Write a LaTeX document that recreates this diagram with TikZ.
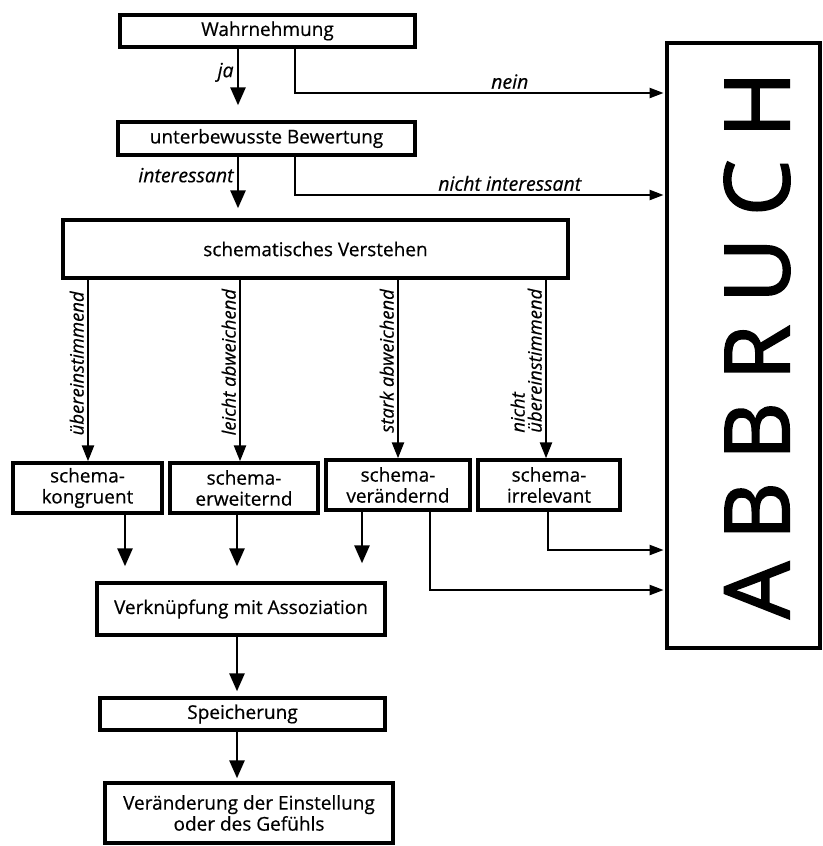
\documentclass[tikz,border=0pt]{standalone}
\usepackage{fontspec}
\setmainfont{Open Sans}
\usetikzlibrary{arrows.meta,calc}
\begin{document}
\begin{tikzpicture}[x=1pt,y=-1pt,
 box/.style={draw,line width=3.4pt,inner sep=0pt,align=center,font=\fontsize{19}{21}\selectfont\addfontfeature{FakeBold=0.5}},
 conn/.style={line width=2.8pt},
 arr/.style={conn,-{Triangle[length=18pt,width=15pt]}},
 sarr/.style={line width=2.4pt,-{Triangle[length=16pt,width=12pt]}},
 rarr/.style={line width=2.2pt,-{Triangle[length=14pt,width=10pt]},shorten >=1.7pt},
 lab/.style={font=\itshape\fontsize{19.5}{19.5}\selectfont\addfontfeature{FakeBold=0.4},inner sep=3pt},
 vlab/.style={font=\itshape\fontsize{18.5}{17}\selectfont\addfontfeature{FakeBold=0.4},inner sep=3pt,rotate=90,anchor=south west,pos=0.88},
]
\clip (0,0) rectangle (822,846);
% boxes
\node[box,minimum width=295pt,minimum height=32pt] (wahr) at (267.5,31) {Wahrnehmung};
\node[box,minimum width=297pt,minimum height=33pt] (bew) at (266.5,138.5) {unterbewusste Bewertung};
\node[box,minimum width=505pt,minimum height=58pt] (vers) at (315.5,249) {schematisches Verstehen};
\node[box,minimum width=149pt,minimum height=50pt] (kon) at (87.5,488) {schema-\\kongruent};
\node[box,minimum width=148pt,minimum height=50pt] (erw) at (244,488) {schema-\\erweiternd};
\node[box,minimum width=144pt,minimum height=50pt] (ver) at (398,485) {schema-\\verändernd};
\node[box,minimum width=142pt,minimum height=50pt] (irr) at (549,485) {schema-\\irrelevant};
\node[box,minimum width=288pt,minimum height=52pt] (verk) at (241,609) {Verknüpfung mit Assoziation};
\node[box,minimum width=285pt,minimum height=32pt] (spei) at (242.5,714) {Speicherung};
\node[box,minimum width=288pt,minimum height=60pt] (einst) at (249,813) {Veränderung der Einstellung\\oder des Gefühls};
\node[box,minimum width=153pt,minimum height=605pt] (abb) at (743.5,345.5) {};
\node[rotate=90,inner sep=0pt,font=\fontsize{90}{90}\selectfont\addfontfeature{LetterSpace=24,FakeBold=2}] (abbtxt) at (757,345) {ABBRUCH};
% connectors
\draw[arr,shorten >=15pt] ([xshift=-29.5pt]wahr.south) -- ([xshift=-28.5pt]bew.north)
  node[lab,left,pos=0.33] {ja};
\draw[rarr] ([xshift=27.5pt]wahr.south) |- ([yshift=252.5pt]abb.west)
  node[lab,above,pos=0.79] {nein};
\draw[arr,shorten >=10pt] ([xshift=-28.5pt]bew.south) -- ([xshift=-77.5pt]vers.north)
  node[lab,left,pos=0.3] {interessant};
\draw[rarr] ([xshift=28.5pt]bew.south) |- ([yshift=150.5pt]abb.west)
  node[lab,above,pos=0.79] {nicht interessant};
\draw[sarr] ([xshift=-227.5pt]vers.south) -- ([xshift=-227.5pt]vers.south |- kon.north)
  node[vlab] {übereinstimmend};
\draw[sarr] ([xshift=-75.5pt]vers.south) -- ([xshift=-75.5pt]vers.south |- erw.north)
  node[vlab] {leicht abweichend};
\draw[sarr] ([xshift=82.5pt]vers.south) -- ([xshift=82.5pt]vers.south |- ver.north)
  node[vlab] {stark abweichend};
\draw[sarr] ([xshift=230.5pt]vers.south) -- ([xshift=230.5pt]vers.south |- irr.north)
  node[vlab,align=left] {nicht\\übereinstimmend};
\draw[arr,shorten >=15pt] ([xshift=37.5pt]kon.south) -- ([xshift=37.5pt]kon.south |- verk.north);
\draw[arr,shorten >=15pt] ([xshift=-7pt]erw.south) -- ([xshift=-7pt]erw.south |- verk.north);
\draw[arr,shorten >=18pt] ([xshift=-36pt]ver.south) -- ([xshift=-36pt]ver.south |- verk.north);
\draw[rarr] ([xshift=32pt]ver.south) |- ([yshift=-244.5pt]abb.west);
\draw[rarr] ([xshift=-1pt]irr.south) |- ([yshift=-204.5pt]abb.west);
\draw[arr,shorten >=5pt] ([xshift=-4pt]verk.south) -- ([xshift=-5.5pt]spei.north);
\draw[arr,shorten >=3pt] ([xshift=-5.5pt]spei.south) -- ([xshift=-12pt]einst.north);
\end{tikzpicture}
\end{document}
